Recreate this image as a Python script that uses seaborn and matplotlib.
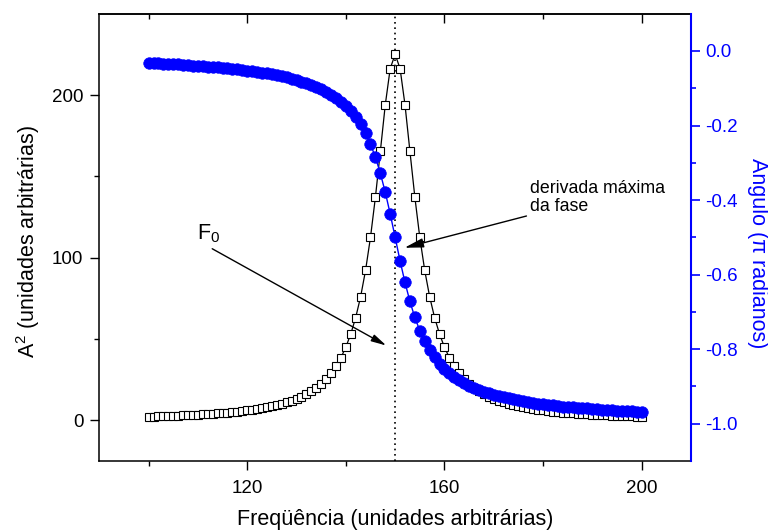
import matplotlib
matplotlib.use("Agg")
import matplotlib.pyplot as plt
from matplotlib.ticker import FixedLocator
import numpy as np
import pandas as pd
import seaborn as sns

# Frequency sweep (arbitrary units)
frequencia = list(range(100, 201))

# Squared amplitude A^2 (arbitrary units)
amplitude2 = [
    2.2, 2.3, 2.4, 2.5, 2.6, 2.7, 2.9, 3.0, 3.1, 3.3,
    3.5, 3.6, 3.8, 4.0, 4.3, 4.5, 4.8, 5.0, 5.4, 5.7,
    6.1, 6.5, 7.0, 7.5, 8.0, 8.7, 9.4, 10.2, 11.1, 12.1,
    13.2, 14.6, 16.1, 17.9, 20.0, 22.5, 25.5, 29.0, 33.3, 38.5,
    45.0, 53.1, 63.2, 76.0, 92.2, 112.5, 137.2, 165.4, 194.0, 216.3,
    225.0,
    216.3, 194.0, 165.4, 137.2, 112.5, 92.2, 76.0, 63.2, 53.1, 45.0,
    38.5, 33.3, 29.0, 25.5, 22.5, 20.0, 17.9, 16.1, 14.6, 13.2,
    12.1, 11.1, 10.2, 9.4, 8.7, 8.0, 7.5, 7.0, 6.5, 6.1,
    5.7, 5.4, 5.0, 4.8, 4.5, 4.3, 4.0, 3.8, 3.6, 3.5,
    3.3, 3.1, 3.0, 2.9, 2.7, 2.6, 2.5, 2.4, 2.3, 2.2,
]

# Phase angle (units of pi radians)
angulo = [
    -0.032, -0.032, -0.033, -0.034, -0.034, -0.035, -0.036, -0.037, -0.038, -0.039,
    -0.040, -0.041, -0.042, -0.043, -0.044, -0.045, -0.046, -0.048, -0.049, -0.051,
    -0.053, -0.054, -0.056, -0.058, -0.060, -0.063, -0.065, -0.068, -0.071, -0.074,
    -0.078, -0.082, -0.086, -0.091, -0.096, -0.102, -0.109, -0.117, -0.126, -0.136,
    -0.148, -0.161, -0.178, -0.197, -0.221, -0.250, -0.285, -0.328, -0.379, -0.437,
    -0.500,
    -0.563, -0.621, -0.672, -0.715, -0.750, -0.779, -0.803, -0.822, -0.839, -0.852,
    -0.864, -0.874, -0.883, -0.891, -0.898, -0.904, -0.909, -0.914, -0.918, -0.922,
    -0.926, -0.929, -0.932, -0.935, -0.937, -0.940, -0.942, -0.944, -0.946, -0.947,
    -0.949, -0.951, -0.952, -0.954, -0.955, -0.956, -0.957, -0.958, -0.959, -0.960,
    -0.961, -0.962, -0.963, -0.964, -0.965, -0.966, -0.966, -0.967, -0.968, -0.968,
]

x_major = [120, 160, 200]
x_minor = [100, 140, 180]
y_major = [0, 100, 200]
y_minor = [50, 150]
ang_major = [-1.0, -0.8, -0.6, -0.4, -0.2, 0.0]
ang_minor = [-0.9, -0.7, -0.5, -0.3, -0.1]

F0 = 150

sns.set_style("ticks")
plt.rcParams["font.family"] = ["Liberation Sans", "DejaVu Sans"]
plt.rcParams["mathtext.fontset"] = "custom"
plt.rcParams["mathtext.rm"] = "Liberation Sans"
plt.rcParams["mathtext.it"] = "Liberation Sans:italic"
plt.rcParams["axes.unicode_minus"] = False
for key in ["text.color", "axes.labelcolor", "xtick.color", "ytick.color",
            "axes.edgecolor"]:
    plt.rcParams[key] = "black"

BLUE = "#0000FF"
df = pd.DataFrame({"f": frequencia, "A2": amplitude2, "fase": angulo})

fig = plt.figure(figsize=(7.68, 5.32), dpi=100)
ax = fig.add_axes([0.1293, 0.1335, 0.7704, 0.8407])
ax2 = ax.twinx()

# amplitude curve: open squares joined by a thin black line
sns.lineplot(data=df, x="f", y="A2", ax=ax, color="black", lw=0.9,
             marker="s", markersize=5.8, markerfacecolor="white",
             markeredgecolor="black", markeredgewidth=0.8)

# resonance frequency
ax.axvline(F0, color="black", lw=1.2, ls=(0, (1, 2.2)), zorder=1)

# phase curve: filled blue circles
sns.lineplot(data=df, x="f", y="fase", ax=ax2, color=BLUE, lw=1.0,
             marker="o", markersize=8.3, markerfacecolor=BLUE,
             markeredgecolor=BLUE, markeredgewidth=0.5)

ax.set_xlim(90, 210)
ax.set_ylim(-25, 250)
ax2.set_ylim(-1.1, 0.1)

ax.xaxis.set_major_locator(FixedLocator(x_major))
ax.xaxis.set_minor_locator(FixedLocator(x_minor))
ax.yaxis.set_major_locator(FixedLocator(y_major))
ax.yaxis.set_minor_locator(FixedLocator(y_minor))
ax2.yaxis.set_major_locator(FixedLocator(ang_major))
ax2.yaxis.set_minor_locator(FixedLocator(ang_minor))
ax2.set_yticklabels([f"{v:.1f}" for v in ang_major])

for s in ["left", "bottom", "top"]:
    ax.spines[s].set_linewidth(1.1)
    ax.spines[s].set_color("black")
ax.spines["right"].set_visible(False)
for s in ["left", "bottom", "top"]:
    ax2.spines[s].set_visible(False)
ax2.spines["right"].set_color(BLUE)
ax2.spines["right"].set_linewidth(1.5)

ax.tick_params(axis="both", which="major", length=6.5, width=1.0,
               labelsize=13.5, color="black", labelcolor="black", pad=5)
ax.tick_params(axis="both", which="minor", length=3.8, width=1.0, color="black")
ax.tick_params(axis="x", which="major", pad=7)
ax2.tick_params(axis="y", which="major", length=6.5, width=1.2, colors=BLUE,
                labelsize=13.5, pad=4)
ax2.tick_params(axis="y", which="minor", length=3.5, width=1.2, colors=BLUE)

# inward ticks along the top edge
top = ax.secondary_xaxis("top")
top.xaxis.set_major_locator(FixedLocator(x_major))
top.xaxis.set_minor_locator(FixedLocator(x_minor))
top.tick_params(which="major", direction="in", length=6.5, width=1.0,
                labeltop=False, color="black")
top.tick_params(which="minor", direction="in", length=3.5, width=1.0, color="black")
top.spines["top"].set_linewidth(1.1)
top.spines["top"].set_color("black")

ax.set_xlabel("Freqüência (unidades arbitrárias)", fontsize=15.5, color="black")
ax.set_ylabel(r"$\mathrm{A}^{2}$ (unidades arbitrárias)", fontsize=15.5, color="black")
ax2.set_ylabel("Angulo (π radianos)", fontsize=15.5, color=BLUE,
               rotation=270, va="center")
ax.xaxis.set_label_coords(0.5, -0.13)
ax.xaxis.label.set_va("center")
ax.yaxis.set_label_coords(-0.1205, 0.491)
ax.yaxis.label.set_va("center")
ax2.yaxis.set_label_coords(1.113, 0.465)

arrow = dict(arrowstyle="-|>,head_length=0.9,head_width=0.22", color="black",
             lw=1.0, shrinkA=0, shrinkB=0)
ax2.annotate("derivada máxima\nda fase", xy=(151.9, 106.1), xycoords=ax.transData,
             xytext=(177.3, 137.0), textcoords=ax.transData, color="black",
             fontsize=12.8, ha="left", va="center", linespacing=1.1,
             arrowprops=dict(arrow, relpos=(0.0, 0.0)))
ax2.annotate("", xy=(148.2, 46.0), xycoords=ax.transData,
             xytext=(112.9, 105.5), textcoords=ax.transData, arrowprops=arrow)
ax2.text(109.8, 111.0, r"$\mathrm{F}_{0}$", transform=ax.transData,
         fontsize=15.5, ha="left", va="baseline", color="black")

fig.savefig("out.png", dpi=100)
